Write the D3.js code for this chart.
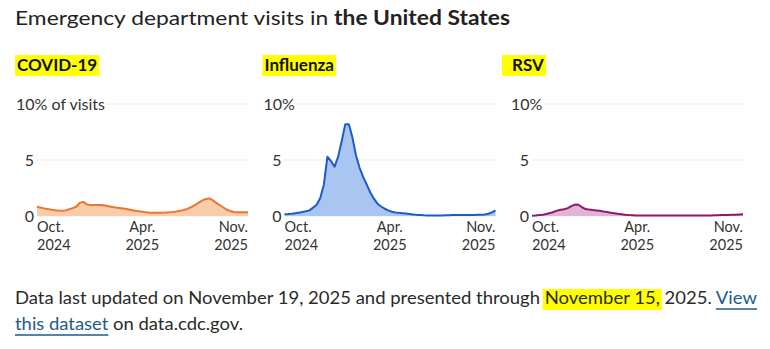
<!DOCTYPE html>
<html><head><meta charset="utf-8">
<script src="https://cdn.jsdelivr.net/npm/d3@7"></script>
<style>
body{margin:0;background:#fff;}
svg{display:block;font-family:Lato,"Open Sans",sans-serif;}
</style></head><body>
<svg id="c" width="770" height="349"></svg>
<script>
// ---- data ----
const weeks = ["2024-09-28","2024-10-05","2024-10-12","2024-10-19","2024-10-26","2024-11-02","2024-11-09","2024-11-16","2024-11-23","2024-11-30",
"2024-12-07","2024-12-14","2024-12-21","2024-12-28","2025-01-04","2025-01-11","2025-01-18","2025-01-25","2025-02-01","2025-02-08",
"2025-02-15","2025-02-22","2025-03-01","2025-03-08","2025-03-15","2025-03-22","2025-03-29","2025-04-05","2025-04-12","2025-04-19",
"2025-04-26","2025-05-03","2025-05-10","2025-05-17","2025-05-24","2025-05-31","2025-06-07","2025-06-14","2025-06-21","2025-06-28",
"2025-07-05","2025-07-12","2025-07-19","2025-07-26","2025-08-02","2025-08-09","2025-08-16","2025-08-23","2025-08-30","2025-09-06",
"2025-09-13","2025-09-20","2025-09-27","2025-10-04","2025-10-11","2025-10-18","2025-10-25","2025-11-01","2025-11-08","2025-11-15"];
const covid = [0.83,0.75,0.68,0.62,0.57,0.52,0.48,0.46,0.50,0.60,
0.70,0.85,1.18,1.26,1.02,0.97,0.98,0.99,0.98,0.93,
0.87,0.80,0.75,0.72,0.68,0.62,0.56,0.50,0.44,0.40,
0.35,0.32,0.30,0.30,0.30,0.30,0.31,0.33,0.36,0.40,
0.46,0.54,0.64,0.78,0.95,1.15,1.35,1.50,1.57,1.45,
1.20,1.00,0.78,0.58,0.45,0.36,0.33,0.33,0.34,0.34];
const influenza = [0.15,0.17,0.20,0.25,0.30,0.35,0.42,0.50,0.75,1.00,
1.60,2.80,5.30,4.90,4.40,5.30,6.70,8.20,8.20,7.00,
5.40,4.30,3.50,2.80,2.10,1.55,1.10,0.85,0.65,0.50,
0.38,0.32,0.28,0.25,0.22,0.18,0.14,0.10,0.08,0.06,
0.05,0.05,0.05,0.05,0.05,0.06,0.07,0.08,0.09,0.10,
0.10,0.10,0.10,0.10,0.11,0.12,0.14,0.20,0.32,0.50];
const rsv = [0.03,0.05,0.08,0.12,0.18,0.26,0.36,0.48,0.56,0.60,
0.70,0.88,1.02,1.00,0.78,0.62,0.57,0.53,0.50,0.46,
0.40,0.35,0.30,0.25,0.20,0.16,0.12,0.09,0.07,0.05,
0.05,0.05,0.05,0.05,0.05,0.05,0.05,0.05,0.05,0.05,
0.05,0.05,0.05,0.05,0.05,0.05,0.05,0.05,0.05,0.05,
0.05,0.06,0.07,0.08,0.09,0.10,0.11,0.12,0.14,0.15];
const panelTitles = ["COVID-19","Influenza","RSV"];
const topLabels = ["10% of visits","10%","10%"];
const yTicks = [0,5,10];
const tickDates = ["2024-09-28","2025-04-22","2025-11-15"];
const tickMonths = ["Oct.","Apr.","Nov."];
const tickYears = ["2024","2025","2025"];

// ---- styles / layout ----
const lineColors = ["#e8782f","#1f5bc8","#8a1b6b"];
const fillColors = ["#f9ccaa","#a9c5f1","#e2b3d2"];
const panelX = [15, 262.5, 510];
const hlPadLeft = [2, 2, 10];
const plotOffset = 22, plotW = 211;
const yTop = 104, yBottom = 216;
const series = [covid, influenza, rsv];

const svg = d3.select("#c");
const parse = d3.utcParse("%Y-%m-%d");
const dates = weeks.map(parse);
const yScale = d3.scaleLinear().domain([0,10]).range([yBottom,yTop]);

// title
const title = svg.append("text").attr("x",15).attr("y",25)
  .attr("font-size",20).attr("fill","#222");
title.append("tspan").text("Emergency department visits in ");
title.append("tspan").attr("font-weight","bold").text("the United States");
title.attr("textLength",495).attr("lengthAdjust","spacingAndGlyphs");

series.forEach((vals, p) => {
  const g = svg.append("g");
  const x0 = panelX[p] + plotOffset;
  const xScale = d3.scaleUtc().domain([dates[0], dates[dates.length-1]]).range([x0, x0+plotW]);

  // panel title with highlight
  const hl = g.append("rect").attr("fill","#ffff00");
  const t = g.append("text").attr("x",panelX[p]+2).attr("y",71)
    .attr("font-size",17).attr("font-weight","bold").attr("fill","#111").text(panelTitles[p]);
  const bb = t.node().getBBox();
  hl.attr("x",bb.x-hlPadLeft[p]).attr("y",55).attr("width",bb.width+hlPadLeft[p]+2).attr("height",21);

  // gridlines
  g.selectAll("line.grid").data(yTicks).join("line").attr("class","grid")
    .attr("x1",x0).attr("x2",x0+plotW)
    .attr("y1",d=>yScale(d)).attr("y2",d=>yScale(d))
    .attr("stroke","#ebebeb").attr("stroke-width",1);

  // area + line
  const area = d3.area().x((d,i)=>xScale(dates[i])).y0(yScale(0)).y1(d=>yScale(d));
  const line = d3.line().x((d,i)=>xScale(dates[i])).y(d=>yScale(d));
  g.append("path").datum(vals).attr("d",area).attr("fill",fillColors[p]);
  g.append("path").datum(vals).attr("d",line).attr("fill","none")
    .attr("stroke",lineColors[p]).attr("stroke-width",2).attr("stroke-linejoin","round");

  // y labels
  yTicks.forEach(v => {
    const isTop = v === yTicks[yTicks.length-1];
    const lab = g.append("text").attr("font-size",16).attr("fill","#333")
      .attr("y", yScale(v)+5.5);
    if (isTop) {
      lab.attr("x",panelX[p]+1).attr("text-anchor","start").text(topLabels[p])
        .attr("stroke","#fff").attr("stroke-width",6).attr("paint-order","stroke");
    } else {
      lab.attr("x",x0-3).attr("text-anchor","end").text(v);
    }
  });

  // x labels (two separate lines)
  tickDates.forEach((d,i) => {
    const xx = xScale(parse(d));
    const anchor = i===0 ? "start" : (i===tickDates.length-1 ? "end" : "middle");
    g.append("text").attr("font-size",14.5).attr("fill","#333").attr("text-anchor",anchor)
      .attr("x",xx).attr("y",232).text(tickMonths[i]);
    g.append("text").attr("font-size",14.5).attr("fill","#333").attr("text-anchor",anchor)
      .attr("x",xx).attr("y",249.5).text(tickYears[i]);
  });
});

// footer
const linkColor = "#1f5a8c";
const f1Parts = ["Data last updated on November 19, 2025 and presented through ","November 15,"," 2025. ","View"];
const f1 = svg.append("text").attr("x",15).attr("y",304).attr("font-size",17).attr("fill","#2a2a2a");
f1Parts.forEach((s,i)=>{ const ts=f1.append("tspan").text(s); if(i===3) ts.attr("fill",linkColor); });
f1.attr("textLength",742).attr("lengthAdjust","spacingAndGlyphs");
const f2 = svg.append("text").attr("x",15).attr("y",330).attr("font-size",17).attr("fill","#2a2a2a");
f2.append("tspan").attr("fill",linkColor).text("this dataset");
f2.append("tspan").text(" on data.cdc.gov.");
f2.attr("textLength",228).attr("lengthAdjust","spacingAndGlyphs");

function charSpan(textSel, start, end){
  const n = textSel.node();
  return [n.getStartPositionOfChar(start).x, n.getEndPositionOfChar(end).x];
}
// highlight "November 15,"
const hStart = f1Parts[0].length, hEnd = hStart + f1Parts[1].length - 1;
const [hx0,hx1] = charSpan(f1,hStart,hEnd);
svg.insert("rect","text").attr("x",hx0-2).attr("y",289).attr("width",hx1-hx0+4).attr("height",21).attr("fill","#ffff00");
// underline links
const vStart = f1Parts[0].length+f1Parts[1].length+f1Parts[2].length;
const [vx0,vx1] = charSpan(f1,vStart,vStart+3);
svg.append("line").attr("x1",vx0).attr("x2",vx1).attr("y1",309).attr("y2",309).attr("stroke",linkColor).attr("stroke-width",1.3);
const [dx0,dx1] = charSpan(f2,0,"this dataset".length-1);
svg.append("line").attr("x1",dx0).attr("x2",dx1).attr("y1",335).attr("y2",335).attr("stroke",linkColor).attr("stroke-width",1.3);
</script>
</body></html>
